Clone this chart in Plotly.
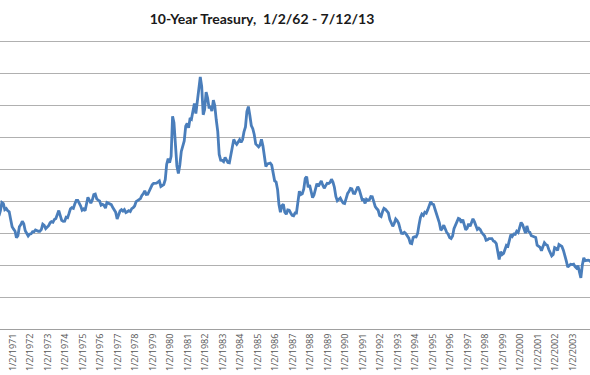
import plotly.graph_objects as go

title_text = "10-Year Treasury,\u00a0 1/2/62 - 7/12/13"

# Monthly 10-year Treasury yields (%), Jan 1970 - Dec 2004
yields = {
    1970: [7.79, 7.24, 7.07, 7.39, 7.91, 7.84, 7.46, 7.53, 7.39, 7.33, 6.84, 6.39],
    1971: [6.24, 6.11, 5.70, 5.83, 6.39, 6.52, 6.73, 6.58, 6.14, 5.93, 5.81, 5.93],
    1972: [5.95, 6.08, 6.07, 6.19, 6.13, 6.11, 6.11, 6.21, 6.55, 6.48, 6.28, 6.36],
    1973: [6.46, 6.64, 6.71, 6.67, 6.85, 6.90, 7.13, 7.40, 7.09, 6.79, 6.73, 6.74],
    1974: [6.99, 6.96, 7.21, 7.51, 7.58, 7.54, 7.81, 8.04, 8.04, 7.90, 7.68, 7.43],
    1975: [7.50, 7.39, 7.73, 8.23, 8.06, 7.86, 8.06, 8.40, 8.43, 8.14, 8.05, 8.00],
    1976: [7.74, 7.79, 7.73, 7.56, 7.90, 7.86, 7.83, 7.77, 7.59, 7.41, 7.29, 6.87],
    1977: [7.21, 7.39, 7.46, 7.37, 7.46, 7.28, 7.33, 7.40, 7.34, 7.52, 7.58, 7.69],
    1978: [7.96, 8.03, 8.04, 8.15, 8.35, 8.46, 8.64, 8.41, 8.42, 8.64, 8.81, 9.01],
    1979: [9.10, 9.10, 9.12, 9.18, 9.25, 8.91, 8.95, 9.03, 9.33, 10.30, 10.65, 10.39],
    1980: [10.80, 13.30, 12.90, 11.47, 10.18, 9.72, 10.25, 11.10, 11.51, 11.75, 12.68, 12.84],
    1981: [12.57, 13.19, 13.12, 13.68, 14.10, 13.47, 14.28, 14.94, 15.75, 15.15, 13.39, 13.72],
    1982: [14.80, 14.43, 13.86, 13.87, 13.62, 14.30, 13.95, 13.06, 12.34, 10.91, 10.55, 10.54],
    1983: [10.46, 10.72, 10.51, 10.40, 10.38, 10.85, 11.38, 11.85, 11.65, 11.54, 11.69, 11.83],
    1984: [11.67, 11.84, 12.32, 12.63, 13.60, 13.90, 13.36, 12.72, 12.52, 12.16, 11.57, 11.50],
    1985: [11.38, 11.51, 11.86, 11.43, 10.85, 10.16, 10.31, 10.33, 10.37, 10.24, 9.78, 9.26],
    1986: [9.19, 8.70, 7.78, 7.30, 7.71, 7.80, 7.30, 7.17, 7.45, 7.43, 7.25, 7.11],
    1987: [7.08, 7.25, 7.25, 8.02, 8.61, 8.40, 8.45, 8.76, 9.42, 9.52, 8.86, 8.99],
    1988: [8.67, 8.21, 8.37, 8.72, 9.09, 8.92, 9.06, 9.26, 8.98, 8.80, 8.96, 9.11],
    1989: [9.09, 9.17, 9.36, 9.18, 8.86, 8.28, 8.02, 8.11, 8.19, 8.01, 7.87, 7.84],
    1990: [8.21, 8.47, 8.59, 8.79, 8.76, 8.48, 8.47, 8.75, 8.89, 8.72, 8.39, 8.08],
    1991: [8.09, 7.85, 8.11, 8.04, 8.07, 8.28, 8.27, 7.90, 7.65, 7.53, 7.42, 7.09],
    1992: [7.03, 7.34, 7.54, 7.48, 7.39, 7.26, 6.84, 6.59, 6.42, 6.59, 6.87, 6.77],
    1993: [6.60, 6.26, 5.98, 5.97, 6.04, 5.96, 5.81, 5.68, 5.36, 5.33, 5.72, 5.77],
    1994: [5.75, 5.97, 6.48, 6.97, 7.18, 7.10, 7.30, 7.24, 7.46, 7.74, 7.96, 7.81],
    1995: [7.78, 7.47, 7.20, 7.06, 6.63, 6.17, 6.28, 6.49, 6.20, 6.04, 5.93, 5.71],
    1996: [5.65, 5.81, 6.27, 6.51, 6.74, 6.91, 6.87, 6.64, 6.83, 6.53, 6.20, 6.30],
    1997: [6.58, 6.42, 6.69, 6.89, 6.71, 6.49, 6.22, 6.30, 6.21, 6.03, 5.88, 5.81],
    1998: [5.54, 5.57, 5.65, 5.64, 5.65, 5.50, 5.46, 5.34, 4.81, 4.35, 4.83, 4.65],
    1999: [4.72, 5.00, 5.23, 5.18, 5.54, 5.90, 5.79, 5.94, 5.92, 6.11, 6.03, 6.28],
    2000: [6.66, 6.52, 6.26, 5.99, 6.44, 6.10, 6.05, 5.83, 5.80, 5.74, 5.72, 5.24],
    2001: [5.16, 5.10, 4.89, 5.14, 5.39, 5.28, 5.24, 4.97, 4.73, 4.57, 4.65, 5.09],
    2002: [5.04, 4.91, 5.28, 5.21, 5.16, 4.93, 4.65, 4.26, 3.87, 3.94, 4.05, 4.03],
    2003: [4.05, 3.90, 3.81, 3.96, 3.57, 3.20, 3.98, 4.45, 4.27, 4.29, 4.30, 4.27],
    2004: [4.15, 4.08, 3.83, 4.35, 4.72, 4.73, 4.50, 4.28, 4.13, 4.10, 4.19, 4.23],
}

tick_years = list(range(1971, 2005))
tick_labels = ["1/2/%d" % y for y in tick_years]
tick_vals = ["%d-01-02" % y for y in tick_years]

dates = []
values = []
for yr, vals in yields.items():
    for m, v in enumerate(vals, start=1):
        dates.append("%d-%02d-15" % (yr, m))
        values.append(v)

fig = go.Figure()
fig.add_trace(go.Scatter(
    x=dates, y=values, mode="lines",
    line=dict(color="#4a7ebb", width=2.8),
    hoverinfo="skip", showlegend=False,
))

fig.update_layout(
    width=590, height=375,
    margin=dict(l=0, r=0, t=39, b=46, pad=0),
    paper_bgcolor="white", plot_bgcolor="white",
    title=dict(text="<b>" + title_text + "</b>", x=262/590, xanchor="center",
               y=1 - 19/375, yanchor="middle", xref="paper", yref="container",
               font=dict(family="Lato", size=14, color="#1a1a1a")),
    xaxis=dict(
        type="date",
        range=["1970-04-06", "2003-12-23"],
        tickmode="array", tickvals=tick_vals, ticktext=tick_labels,
        tickangle=-90, tickfont=dict(family="Open Sans", size=9, color="#555555"),
        showgrid=False, showline=True, linecolor="#a0a0a0", linewidth=1,
        ticks="", ticklen=0, automargin=False, zeroline=False,
    ),
    yaxis=dict(
        range=[0, 18.125], dtick=2, tick0=0,
        showticklabels=False, showgrid=True, gridcolor="#b0b0b0", gridwidth=1,
        zeroline=False, showline=False, ticks="", automargin=False,
    ),
)

fig.write_html("out.html", config={"displayModeBar": False},
               post_script="document.body.style.margin='0';document.body.style.overflow='hidden';")
